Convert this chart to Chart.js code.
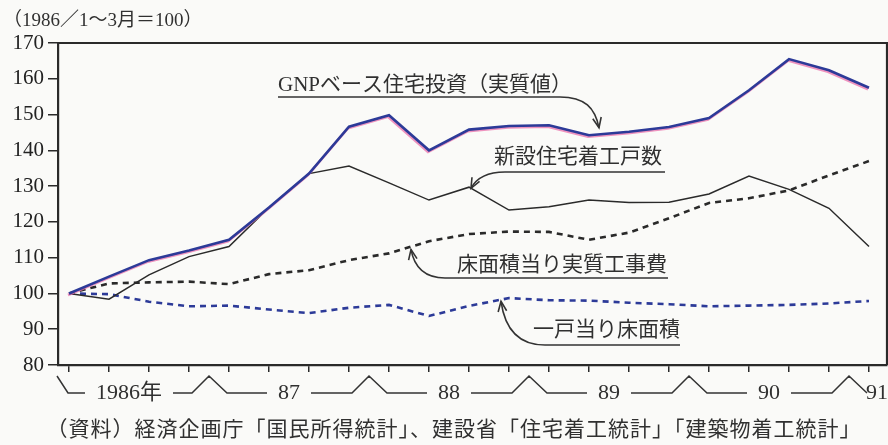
<!DOCTYPE html>
<html>
<head>
<meta charset="utf-8">
<script src="https://cdn.jsdelivr.net/npm/chart.js@4"></script>
<style>
  html, body { margin: 0; padding: 0; background: #fafaf8; }
  #wrap { position: relative; width: 888px; height: 445px; }
</style>
</head>
<body>
<div id="wrap"><canvas id="myChart"></canvas></div>
<script>
// quarterly index, 1986 Jan-Mar = 100
const quarters = ['86/1-3','86/4-6','86/7-9','86/10-12',
                  '87/1-3','87/4-6','87/7-9','87/10-12',
                  '88/1-3','88/4-6','88/7-9','88/10-12',
                  '89/1-3','89/4-6','89/7-9','89/10-12',
                  '90/1-3','90/4-6','90/7-9','90/10-12',
                  '91/1-3'];
const quarterPos = [0, 1, 2, 3, 4, 5, 6, 7, 8, 9, 10, 11, 12, 13, 14, 15, 16, 17, 18, 19, 20];

const gnpHousing    = [100, 104.7, 109.3, 112, 115, 124, 133.5, 146.6, 149.8, 140, 145.8, 146.8, 147, 144.2, 145.2, 146.5, 149, 156.8, 165.5, 162.4, 157.5];
const housingStarts = [100, 98.4, 105.2, 110.3, 113.1, 124, 133.5, 135.6, 130.9, 126.1, 129.7, 123.3, 124.2, 126.1, 125.4, 125.5, 127.8, 132.8, 129.1, 123.8, 113.1];
const costPerArea   = [100, 102.8, 103.1, 103.3, 102.6, 105.4, 106.5, 109.3, 111.2, 114.6, 116.6, 117.3, 117.2, 115, 117, 121, 125.3, 126.6, 128.8, 133, 137];
const areaPerUnit   = [100, 99.8, 97.7, 96.4, 96.6, 95.5, 94.5, 96, 96.8, 93.7, 96.5, 98.7, 98.1, 98, 97.4, 97, 96.4, 96.6, 96.8, 97.2, 97.9];

const seriesNames = ['GNPベース住宅投資（実質値）', '新設住宅着工戸数', '床面積当り実質工事費', '一戸当り床面積'];
const yTicks = [80, 90, 100, 110, 120, 130, 140, 150, 160, 170];
const yearLabels = ['1986年', '87', '88', '89', '90', '91'];
const unitNote = '（1986／1～3月＝100）';
const sourceNote = '（資料）経済企画庁「国民所得統計」、建設省「住宅着工統計」「建築物着工統計」';

const INK = '#2a2a2a';
const BLUE = '#2c3a98';
const LABEL_FONT = "21px 'Liberation Serif', 'Noto Sans CJK JP'";

function pts(values) {
  return quarterPos.map((q, i) => ({ x: q, y: values[i] }));
}

function arrowHead(c, fx, fy, tx, ty, len) {
  const a = Math.atan2(ty - fy, tx - fx);
  c.beginPath();
  c.moveTo(tx - len * Math.cos(a - 0.4), ty - len * Math.sin(a - 0.4));
  c.lineTo(tx, ty);
  c.lineTo(tx - len * Math.cos(a + 0.4), ty - len * Math.sin(a + 0.4));
  c.stroke();
}

// label text + underline + curved leader ending in an arrow at (tx, ty)
function leader(c, text, textX, textY, lineY, lineX0, lineX1, cp1, cp2, tx, ty) {
  c.font = LABEL_FONT;
  c.textAlign = 'left';
  c.textBaseline = 'middle';
  c.fillStyle = '#303030';
  c.fillText(text, textX, textY);
  c.beginPath();
  c.moveTo(lineX1, lineY);
  c.lineTo(lineX0, lineY);
  c.bezierCurveTo(cp1[0], cp1[1], cp2[0], cp2[1], tx, ty);
  c.stroke();
  arrowHead(c, cp2[0], cp2[1], tx, ty, 11);
}

const decor = {
  id: 'decor',
  beforeDatasetDraw(chart, args) {
    if (args.index === 0) {
      // slight pink misregistration under the blue print line
      const c = chart.ctx;
      c.save();
      c.shadowColor = 'rgba(235,120,175,0.8)';
      c.shadowOffsetX = -1;
      c.shadowOffsetY = 1.5;
      c.shadowBlur = 0;
    }
  },
  afterDatasetDraw(chart, args) {
    if (args.index === 0) chart.ctx.restore();
  },
  afterDraw(chart) {
    const c = chart.ctx;
    const a = chart.chartArea;
    const xs = chart.scales.x, ys = chart.scales.y;
    c.save();

    // top and right frame
    c.strokeStyle = INK;
    c.lineWidth = 2.2;
    c.beginPath();
    c.moveTo(a.left, a.top);
    c.lineTo(a.right, a.top);
    c.lineTo(a.right, a.bottom);
    c.stroke();

    // unit note
    c.fillStyle = '#303030';
    c.font = "19px 'Liberation Serif', 'Noto Sans CJK JP'";
    c.textAlign = 'left';
    c.textBaseline = 'middle';
    c.fillText(unitNote, 3, 21);

    // source note
    c.font = "21px 'Noto Sans CJK JP'";
    c.textAlign = 'center';
    if ('letterSpacing' in c) c.letterSpacing = '1px';
    c.fillText(sourceNote, 454, 428);
    if ('letterSpacing' in c) c.letterSpacing = '0px';

    // year brackets under the x axis
    const base = 393, apex = 376, gap = 11;
    c.lineWidth = 1.5;
    c.strokeStyle = '#333';
    c.font = "22px 'Liberation Serif', 'Noto Sans CJK JP'";
    const brk = k => xs.getPixelForValue((quarterPos[4 * k + 3] + quarterPos[4 * k + 4]) / 2);
    const start = xs.getPixelForValue(quarterPos[0] - 0.5);
    c.beginPath();
    c.moveTo(start + 8, apex);
    c.lineTo(start + 19, base);
    for (let k = 0; k < 5; k++) {
      const cx = xs.getPixelForValue((quarterPos[4 * k] + quarterPos[4 * k + 3]) / 2);
      const w = c.measureText(yearLabels[k]).width;
      c.lineTo(cx - w / 2 - gap, base);
      c.fillText(yearLabels[k], cx, base);
      const b = brk(k);
      c.moveTo(cx + w / 2 + gap, base);
      c.lineTo(b - 17, base);
      c.lineTo(b, apex);
      c.lineTo(b + 18, base);
    }
    c.stroke();
    c.textAlign = 'left';
    c.fillText(yearLabels[5], brk(4) + 17, base);

    // series labels with leaders
    c.strokeStyle = '#333';
    c.lineWidth = 1.6;
    let tx = xs.getPixelForValue(13.25), ty = ys.getPixelForValue(146.3);
    leader(c, seriesNames[0], 278, 85, 97, 560, 278, [585, 97], [595, 108], tx, ty);

    tx = xs.getPixelForValue(10.05); ty = ys.getPixelForValue(129.4);
    leader(c, seriesNames[1], 494, 157, 172, 505, 665, [488, 172], [477, 177], tx, ty);

    tx = xs.getPixelForValue(8.55); ty = ys.getPixelForValue(112.3);
    leader(c, seriesNames[2], 457, 265, 278, 445, 668, [424, 278], [414, 266], tx, ty);

    tx = xs.getPixelForValue(10.8); ty = ys.getPixelForValue(97.8);
    leader(c, seriesNames[3], 533, 330, 345, 545, 680, [520, 345], [505, 330], tx, ty);

    c.restore();
  }
};

new Chart('myChart', {
  type: 'line',
  data: {
    labels: quarters,
    datasets: [
      { label: seriesNames[0], data: pts(gnpHousing), borderColor: BLUE, borderWidth: 2.6 },
      { label: seriesNames[1], data: pts(housingStarts), borderColor: INK, borderWidth: 1.5 },
      { label: seriesNames[2], data: pts(costPerArea), borderColor: INK, borderWidth: 2.6, borderDash: [6, 5] },
      { label: seriesNames[3], data: pts(areaPerUnit), borderColor: BLUE, borderWidth: 2.6, borderDash: [6, 5] }
    ]
  },
  options: {
    responsive: true,
    maintainAspectRatio: false,
    animation: false,
    layout: { padding: { top: 43, right: 1, left: 0, bottom: 0 } },
    elements: { point: { radius: 0 }, line: { tension: 0, fill: false } },
    plugins: { legend: { display: false }, tooltip: { enabled: false } },
    scales: {
      x: {
        type: 'linear',
        min: -0.275,
        max: 20.45,
        afterBuildTicks: s => { s.ticks = quarterPos.map(v => ({ value: v })); },
        afterFit: s => { s.height = 80; },
        ticks: { display: false },
        grid: { drawOnChartArea: false, tickLength: 7, color: INK, lineWidth: 1.5 },
        border: { color: INK, width: 2.2 }
      },
      y: {
        min: 80,
        max: 170,
        afterBuildTicks: s => { s.ticks = yTicks.map(v => ({ value: v })); },
        afterFit: s => { s.width = 58; },
        ticks: { color: '#222', padding: 4, font: { family: "'Liberation Serif', serif", size: 21 } },
        grid: { drawOnChartArea: false, tickLength: 10, color: INK, lineWidth: 1.5 },
        border: { color: INK, width: 2.2 }
      }
    }
  },
  plugins: [decor]
});
</script>
</body>
</html>
